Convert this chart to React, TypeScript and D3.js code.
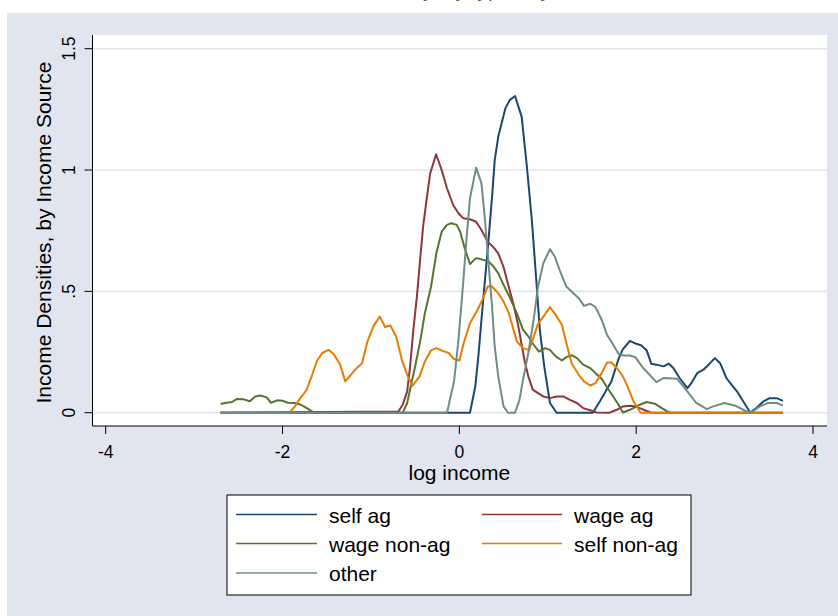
import React from "react";
import * as d3 from "d3";

// ---- data ----
const xTicks = [-4, -2, 0, 2, 4];
const yTicks = [0, 0.5, 1, 1.5];
const yTickLabels = ["0", ".5", "1", "1.5"];

const selfAgX = [-2.7, 0.12, 0.18, 0.215, 0.25, 0.29, 0.33, 0.37, 0.4, 0.44, 0.52, 0.57, 0.63, 0.705, 0.76, 0.82, 0.87, 0.91, 0.96, 1.025, 1.1, 1.51, 1.59, 1.665, 1.72, 1.8, 1.85, 1.93, 2.0, 2.06, 2.12, 2.17, 2.23, 2.31, 2.37, 2.42, 2.49, 2.58, 2.63, 2.69, 2.76, 2.83, 2.89, 2.95, 3.02, 3.08, 3.14, 3.21, 3.29, 3.36, 3.44, 3.51, 3.59, 3.66];
const selfAgY = [0, 0, 0.108, 0.232, 0.383, 0.547, 0.712, 0.89, 1.041, 1.137, 1.254, 1.288, 1.305, 1.219, 1.028, 0.794, 0.547, 0.342, 0.191, 0.04, 0, 0, 0.047, 0.095, 0.129, 0.221, 0.262, 0.296, 0.284, 0.277, 0.256, 0.202, 0.198, 0.191, 0.202, 0.184, 0.143, 0.101, 0.125, 0.163, 0.177, 0.202, 0.225, 0.204, 0.143, 0.115, 0.088, 0.047, 0.001, 0.019, 0.047, 0.06, 0.06, 0.049];

const wageAgX = [-2.7, -0.69, -0.64, -0.59, -0.557, -0.52, -0.48, -0.444, -0.41, -0.376, -0.33, -0.263, -0.2, -0.14, -0.07, -0.01, 0.045, 0.12, 0.19, 0.25, 0.32, 0.38, 0.44, 0.5, 0.55, 0.61, 0.66, 0.69, 0.74, 0.78, 0.83, 0.89, 0.95, 1.025, 1.1, 1.175, 1.25, 1.33, 1.4, 1.48, 1.55, 1.7, 1.78, 1.85, 1.93, 1.99, 2.04, 2.12, 2.17, 3.66];
const wageAgY = [0, 0.005, 0.033, 0.088, 0.191, 0.342, 0.479, 0.63, 0.767, 0.863, 0.986, 1.065, 1.0, 0.925, 0.856, 0.822, 0.801, 0.797, 0.787, 0.753, 0.705, 0.684, 0.657, 0.6, 0.53, 0.45, 0.37, 0.31, 0.21, 0.15, 0.095, 0.081, 0.067, 0.06, 0.067, 0.067, 0.053, 0.04, 0.019, 0.01, 0.001, 0, 0.012, 0.026, 0.029, 0.026, 0.019, 0.007, 0, 0];

const wageNonAgX = [-2.7, -2.65, -2.57, -2.52, -2.44, -2.37, -2.31, -2.25, -2.18, -2.13, -2.06, -2.0, -1.94, -1.87, -1.8, -1.72, -1.65, -0.64, -0.59, -0.55, -0.5, -0.44, -0.39, -0.32, -0.26, -0.2, -0.14, -0.09, -0.03, 0.01, 0.06, 0.12, 0.19, 0.25, 0.33, 0.38, 0.44, 0.5, 0.57, 0.65, 0.72, 0.78, 0.84, 0.9, 0.97, 1.025, 1.09, 1.16, 1.21, 1.27, 1.33, 1.4, 1.48, 1.54, 1.61, 1.67, 1.74, 1.8, 1.85, 1.93, 1.99, 2.04, 2.12, 2.21, 2.29, 2.36, 2.4, 3.66];
const wageNonAgY = [0.036, 0.04, 0.044, 0.056, 0.055, 0.047, 0.067, 0.071, 0.063, 0.041, 0.051, 0.049, 0.041, 0.04, 0.034, 0.018, 0.001, 0, 0.04, 0.108, 0.191, 0.3, 0.41, 0.52, 0.657, 0.746, 0.774, 0.781, 0.774, 0.746, 0.678, 0.613, 0.637, 0.632, 0.623, 0.605, 0.575, 0.527, 0.475, 0.41, 0.342, 0.315, 0.28, 0.252, 0.266, 0.259, 0.232, 0.215, 0.229, 0.237, 0.225, 0.198, 0.184, 0.163, 0.14, 0.105, 0.067, 0.033, 0.001, 0.012, 0.023, 0.033, 0.044, 0.037, 0.019, 0.003, 0, 0];

const selfNonAgX = [-2.7, -1.92, -1.86, -1.8, -1.73, -1.67, -1.61, -1.55, -1.48, -1.42, -1.35, -1.29, -1.23, -1.17, -1.1, -1.04, -0.97, -0.9, -0.84, -0.78, -0.715, -0.65, -0.59, -0.53, -0.45, -0.39, -0.32, -0.26, -0.19, -0.12, -0.06, 0.0, 0.05, 0.12, 0.2, 0.26, 0.32, 0.37, 0.44, 0.5, 0.56, 0.65, 0.72, 0.79, 0.89, 0.95, 1.025, 1.09, 1.16, 1.21, 1.27, 1.35, 1.41, 1.48, 1.54, 1.61, 1.67, 1.72, 1.79, 1.85, 1.91, 1.97, 2.05, 3.66];
const selfNonAgY = [0, 0, 0.026, 0.06, 0.092, 0.15, 0.214, 0.246, 0.259, 0.241, 0.2, 0.129, 0.155, 0.181, 0.204, 0.293, 0.358, 0.396, 0.353, 0.359, 0.314, 0.218, 0.156, 0.111, 0.15, 0.211, 0.257, 0.266, 0.255, 0.246, 0.221, 0.215, 0.287, 0.369, 0.42, 0.465, 0.52, 0.52, 0.492, 0.458, 0.41, 0.294, 0.266, 0.259, 0.366, 0.396, 0.435, 0.403, 0.362, 0.287, 0.204, 0.156, 0.129, 0.112, 0.122, 0.163, 0.207, 0.207, 0.18, 0.15, 0.101, 0.047, 0, 0];

const otherX = [-2.7, -0.14, -0.06, -0.01, 0.04, 0.08, 0.12, 0.19, 0.25, 0.29, 0.33, 0.37, 0.4, 0.44, 0.5, 0.55, 0.63, 0.68, 0.72, 0.78, 0.84, 0.89, 0.95, 1.025, 1.08, 1.14, 1.21, 1.29, 1.35, 1.41, 1.48, 1.54, 1.61, 1.67, 1.74, 1.8, 1.85, 1.93, 1.99, 2.08, 2.23, 2.31, 2.46, 2.55, 2.68, 2.8, 2.87, 3.0, 3.12, 3.25, 3.3, 3.4, 3.49, 3.59, 3.66];
const otherY = [0, 0, 0.129, 0.3, 0.52, 0.712, 0.883, 1.01, 0.945, 0.794, 0.616, 0.437, 0.273, 0.15, 0.026, 0, 0, 0.053, 0.136, 0.246, 0.383, 0.52, 0.616, 0.674, 0.643, 0.582, 0.52, 0.492, 0.472, 0.44, 0.449, 0.435, 0.383, 0.321, 0.28, 0.243, 0.236, 0.236, 0.229, 0.184, 0.126, 0.143, 0.14, 0.101, 0.04, 0.015, 0.026, 0.04, 0.029, 0.005, 0.001, 0.026, 0.04, 0.04, 0.029];

const seriesNames = ["self ag", "wage ag", "wage non-ag", "self non-ag", "other"];
const seriesColors = ["#1a476f", "#90353b", "#55752f", "#e37e00", "#6e8e84"];
const seriesX = [selfAgX, wageAgX, wageNonAgX, selfNonAgX, otherX];
const seriesY = [selfAgY, wageAgY, wageNonAgY, selfNonAgY, otherY];

const FONT = "'Liberation Sans', Arial, Helvetica, sans-serif";
const BG = "#e0e5ef";

export default function App() {
  const x = d3.scaleLinear().domain([-4, 4]).range([105.7, 813]);
  const y = d3.scaleLinear().domain([0, 1.5]).range([412.7, 48.7]);
  const plotL = 92.5, plotR = 827, plotT = 35, plotB = 426;

  const line = d3
    .line<[number, number]>()
    .x((d) => x(d[0]))
    .y((d) => y(d[1]));

  const legendItems = seriesNames.map((name, i) => {
    const col = i % 2;
    const row = Math.floor(i / 2);
    return { name, color: seriesColors[i], col, row };
  });
  const legCols = [{ lx1: 236, lx2: 317, tx: 329 }, { lx1: 482, lx2: 562, tx: 574 }];
  const legRows = [514.5, 543.5, 573];

  return (
    <svg
      width={838}
      height={616}
      style={{ position: "absolute", left: 0, top: 0 }}
      fontFamily={FONT}
    >
      <rect x={0} y={0} width={838} height={616} fill="#ffffff" />
      <text x={441} y={-3.5} textAnchor="middle" fontSize={21} fill="#555">
        Kernel density, by type of year
      </text>
      <rect x={7} y={13} width={831} height={603} fill={BG} />
      <rect x={plotL} y={plotT} width={plotR - plotL} height={plotB - plotT} fill="#ffffff" />

      {/* gridlines */}
      {yTicks.map((t) => (
        <line key={"g" + t} x1={plotL} x2={plotR} y1={y(t)} y2={y(t)} stroke={BG} strokeWidth={1.6} />
      ))}

      {/* series */}
      {seriesX.map((xs, i) => {
        const pts: [number, number][] = xs.map((v, j) => [v, seriesY[i][j]]);
        return (
          <path
            key={seriesNames[i]}
            d={line(pts) || ""}
            fill="none"
            stroke={seriesColors[i]}
            strokeWidth={2}
            strokeLinejoin="round"
          />
        );
      })}

      {/* axes */}
      <line x1={plotL} x2={plotL} y1={plotT} y2={plotB} stroke="#000" strokeWidth={1} />
      <line x1={plotL} x2={plotR} y1={plotB} y2={plotB} stroke="#000" strokeWidth={1} />
      {xTicks.map((t) => (
        <g key={"xt" + t}>
          <line x1={x(t)} x2={x(t)} y1={plotB} y2={plotB + 8} stroke="#000" strokeWidth={1} />
          <text x={x(t)} y={458} textAnchor="middle" fontSize={17.5} fill="#000">
            {String(t)}
          </text>
        </g>
      ))}
      {yTicks.map((t, i) => (
        <g key={"yt" + t}>
          <line x1={plotL - 8} x2={plotL} y1={y(t)} y2={y(t)} stroke="#000" strokeWidth={1} />
          <text
            transform={`translate(75,${y(t)}) rotate(-90)`}
            textAnchor="middle"
            fontSize={17.5}
            fill="#000"
          >
            {yTickLabels[i]}
          </text>
        </g>
      ))}
      <text x={459.3} y={479.5} textAnchor="middle" fontSize={21} fill="#000">
        log income
      </text>
      <text transform="translate(50.5,232.5) rotate(-90)" textAnchor="middle" fontSize={21} fill="#000">
        Income Densities, by Income Source
      </text>

      {/* legend */}
      <rect x={227} y={495} width={464} height={100} fill="#ffffff" stroke="#000" strokeWidth={1} />
      {legendItems.map((it) => {
        const c = legCols[it.col];
        const ly = legRows[it.row];
        return (
          <g key={"lg" + it.name}>
            <line x1={c.lx1} x2={c.lx2} y1={ly} y2={ly} stroke={it.color} strokeWidth={1.5} />
            <text x={c.tx} y={ly + 8} fontSize={21} fill="#000">
              {it.name}
            </text>
          </g>
        );
      })}
    </svg>
  );
}
